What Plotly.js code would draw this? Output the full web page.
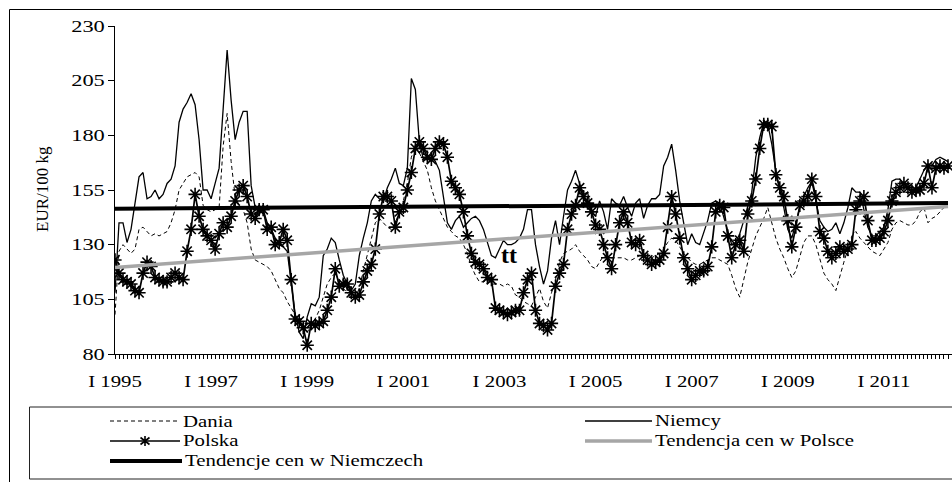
<!DOCTYPE html>
<html>
<head>
<meta charset="utf-8">
<script src="https://cdn.plot.ly/plotly-3.0.1.min.js"></script>
<style>html,body{margin:0;padding:0;background:#fff;}#chart{width:952px;height:482px;}</style>
</head>
<body>
<div id="chart"></div>
<script>
// Monthly prices, EUR/100 kg, from I 1995 (index 0) to V 2012
const dania = [
 98,127,130,128,126,128,137,138,136,134,135,134,
 135,136,140,146,155,158,161,162,163,161,148,146,
 145,146,147,175,190,168,152,148,146,140,128,123,
 122,121,120,118,114,110,108,104,101,98,95,91,
 90,93,96,100,106,112,115,117,113,110,108,106,
 106,110,118,125,133,140,142,140,138,137,140,145,
 150,158,170,175,172,168,164,156,150,146,142,138,
 136,134,133,130,126,120,116,113,113,114,112,112,
 112,111,112,111,107,106,104,103,102,106,110,104,
 101,108,114,122,126,127,128,130,127,125,123,120,
 119,122,125,124,124,124,124,124,123,123,124,125,
 125,124,124,125,126,128,131,133,132,129,126,124,
 122,121,121,122,123,124,124,123,122,121,116,110,
 106,114,122,128,134,138,142,147,140,133,128,124,
 119,115,118,125,131,134,134,130,124,117,114,112,
 109,116,122,128,134,136,133,131,129,127,126,125,
 128,131,137,140,141,140,139,139,141,145,147,140,
 142,143,145,147,148
];
const niemcy = [
 108,140,140,131,137,150,161,163,151,152,155,151,
 153,158,160,166,186,192,195,199,194,178,155,155,
 151,158,165,192,219,196,178,186,191,191,157,147,
 145,146,140,137,133,130,129,127,112,98,90,87,
 97,103,102,106,125,128,133,131,123,116,112,109,
 112,125,133,140,150,153,151,150,156,160,165,158,
 157,165,206,201,177,169,170,171,168,164,152,140,
 137,141,143,138,140,142,143,141,137,131,125,124,
 128,132,130,130,131,133,137,146,146,130,120,112,
 118,133,141,130,143,155,159,164,158,153,154,145,
 143,150,145,137,151,149,148,152,147,143,149,151,
 142,148,151,151,153,166,170,176,164,150,140,130,
 135,131,130,136,141,149,150,149,143,137,130,131,
 135,141,148,154,170,179,186,185,176,164,155,147,
 137,133,140,147,152,156,159,150,141,138,136,137,
 140,135,140,147,156,154,154,146,138,134,134,136,
 138,146,159,160,160,156,158,155,156,160,164,167,
 166,169,170,169,168
];
const polska = [
 123,117,114,113,112,109,108,117,122,120,115,114,
 113,113,115,117,115,114,127,137,153,143,137,134,
 132,128,135,140,138,143,150,155,157,152,144,142,
 146,146,137,138,130,131,137,132,114,96,95,92,
 84,94,93,94,95,100,106,119,111,112,112,108,
 106,107,113,118,121,128,144,152,152,150,138,145,
 147,155,163,174,177,174,170,169,174,177,176,170,
 159,156,153,145,134,126,122,121,119,115,114,101,
 100,99,98,99,100,100,108,114,117,100,94,93,
 91,94,111,117,121,137,144,148,156,152,149,145,
 139,137,130,124,119,130,140,145,140,131,130,132,
 125,123,121,122,123,126,138,152,144,133,124,119,
 114,116,118,118,120,129,145,148,147,134,124,130,
 132,127,144,150,160,174,185,185,184,162,156,152,
 141,129,138,148,150,152,160,152,136,133,127,124,
 126,129,127,128,130,146,150,152,141,132,132,133,
 136,141,150,154,156,158,156,154,155,155,158,166,
 156,165,166,165,166
];
// Trend lines (start / end values)
const trendMonths = [0, 208];
const trendNiemcy = [146.4, 149.0];
const trendPolska = [119.6, 147.4];
// Axis labels
const yearLabels = ["I 1995","I 1997","I 1999","I 2001","I 2003","I 2005","I 2007","I 2009","I 2011"];
const yTicks = [80,105,130,155,180,205,230];
const seriesNames = ["Dania","Niemcy","Polska","Tendencja cen w Polsce","Tendencje cen w Niemczech"];

const months = polska.map((_, k) => k);
const tickText = months.map(k => (k % 24 === 0 && yearLabels[k/24]) ? yearLabels[k/24] : "");

const FONT = "Liberation Serif, Times New Roman, serif";
const W = 952, H = 482, ML = 115, MR = 0, MT = 26, MB = 128;
const PW = W - ML - MR, PH = H - MT - MB;
const P = px => (px - ML) / PW;
const Q = py => (H - MB - py) / PH;
const GRAY = "#a6a6a6";

const traces = [
  {x: months, y: dania, name: seriesNames[0], type: "scatter", mode: "lines",
   line: {color: "#000", width: 1, dash: "4px,3px"}},
  {x: months, y: niemcy, name: seriesNames[1], type: "scatter", mode: "lines",
   line: {color: "#000", width: 1.3}},
  {x: months, y: polska, name: seriesNames[2], type: "scatter", mode: "lines+markers",
   line: {color: "#000", width: 1.7},
   marker: {symbol: "asterisk-open", size: 11, color: "#000", line: {color: "#000", width: 1.6}}},
  {x: trendMonths, y: trendPolska, name: seriesNames[3], type: "scatter", mode: "lines",
   line: {color: GRAY, width: 3.5}},
  {x: trendMonths, y: trendNiemcy, name: seriesNames[4], type: "scatter", mode: "lines",
   line: {color: "#000", width: 4}}
];

function hline(x0, x1, y, color, width, dash) {
  return {type: "line", xref: "paper", yref: "paper", x0: P(x0), x1: P(x1), y0: Q(y), y1: Q(y),
          line: {color: color, width: width, dash: dash || "solid"}};
}
const cx = 145, cy = 441, a = 5;
const starPath = `M${P(cx)},${Q(cy-a)} L${P(cx)},${Q(cy+a)} M${P(cx-4.5)},${Q(cy-3.5)} L${P(cx+4.5)},${Q(cy+3.5)} M${P(cx-4.5)},${Q(cy+3.5)} L${P(cx+4.5)},${Q(cy-3.5)}`;

const shapes = [
  {type: "rect", xref: "paper", yref: "paper", x0: P(9.5), x1: P(1000), y0: Q(9.5), y1: Q(530),
   line: {color: "#000", width: 1}, fillcolor: "rgba(0,0,0,0)"},
  {type: "rect", xref: "paper", yref: "paper", x0: P(29.5), x1: P(1000), y0: Q(407), y1: Q(479),
   line: {color: "#222", width: 1}, fillcolor: "rgba(0,0,0,0)"},
  hline(110, 180, 421, "#000", 1, "4px,3px"),
  hline(585, 652, 421, "#000", 1.3),
  hline(110, 180, 441, "#000", 1.6),
  {type: "path", xref: "paper", yref: "paper", path: starPath, line: {color: "#000", width: 1.6}},
  hline(585, 652, 441, GRAY, 3.5),
  hline(110, 182, 461, "#000", 4)
];

function legText(txt, px, py) {
  return {text: txt, xref: "paper", yref: "paper", x: P(px), y: Q(py), xanchor: "left", yanchor: "middle",
          align: "left", showarrow: false, font: {family: FONT, size: 16, color: "#000"}};
}
const annotations = [
  legText(seriesNames[0], 181, 421),
  legText(seriesNames[1], 653, 421),
  legText(seriesNames[2], 181, 441),
  legText(seriesNames[3], 653, 441),
  legText(seriesNames[4], 183, 461),
  {text: "EUR/100 kg", xref: "paper", yref: "paper", x: P(42), y: Q(189), textangle: -90,
   showarrow: false, xanchor: "center", yanchor: "middle", font: {family: FONT, size: 17, color: "#000"}},
  {text: "<b>tt</b>", xref: "x", yref: "y", x: 98.4, y: 125.5, showarrow: false,
   font: {family: FONT, size: 24, color: "#000"}}
];

const layout = {
  width: W, height: H,
  margin: {l: ML, r: MR, t: MT, b: MB, pad: 0},
  paper_bgcolor: "#fff", plot_bgcolor: "#fff",
  showlegend: false,
  font: {family: FONT, size: 16, color: "#000"},
  xaxis: {range: [0, 209], tickmode: "array", tickvals: months, ticktext: tickText,
          ticks: "outside", ticklen: 4, tickwidth: 1, tickcolor: "#000",
          showline: true, linecolor: "#000", linewidth: 1, showgrid: false, zeroline: false,
          ticklabelstandoff: 9, tickangle: 0, tickfont: {family: FONT, size: 16, color: "#000"}},
  yaxis: {range: [80, 230], tickmode: "array", tickvals: yTicks, ticktext: yTicks.map(String),
          ticks: "outside", ticklen: 6, tickwidth: 1, tickcolor: "#000",
          showline: true, linecolor: "#000", linewidth: 1, showgrid: false, zeroline: false,
          tickfont: {family: FONT, size: 16, color: "#000"}},
  shapes: shapes,
  annotations: annotations
};

// The reference uses horizontally widened Times-like lettering: widen the glyphs of the texts
function widen(t, k) {
  if (!t.textContent || !t.textContent.trim()) return;
  const w = t.getComputedTextLength();
  if (!w) return;
  t.setAttribute("textLength", (w * k).toFixed(2));
  t.setAttribute("lengthAdjust", "spacingAndGlyphs");
}

Plotly.newPlot("chart", traces, layout, {staticPlot: true, displayModeBar: false}).then(gd => {
  gd.querySelectorAll(".xtick text").forEach(t => widen(t, 1.3));
  gd.querySelectorAll(".ytick text").forEach(t => widen(t, 1.4));
  gd.querySelectorAll(".annotation").forEach(g => {
    const idx = +g.getAttribute("data-index");
    if (idx <= 4) {
      const t = g.querySelector("text.annotation-text");
      if (t) widen(t, 1.3);
    }
  });
});
</script>
</body>
</html>
